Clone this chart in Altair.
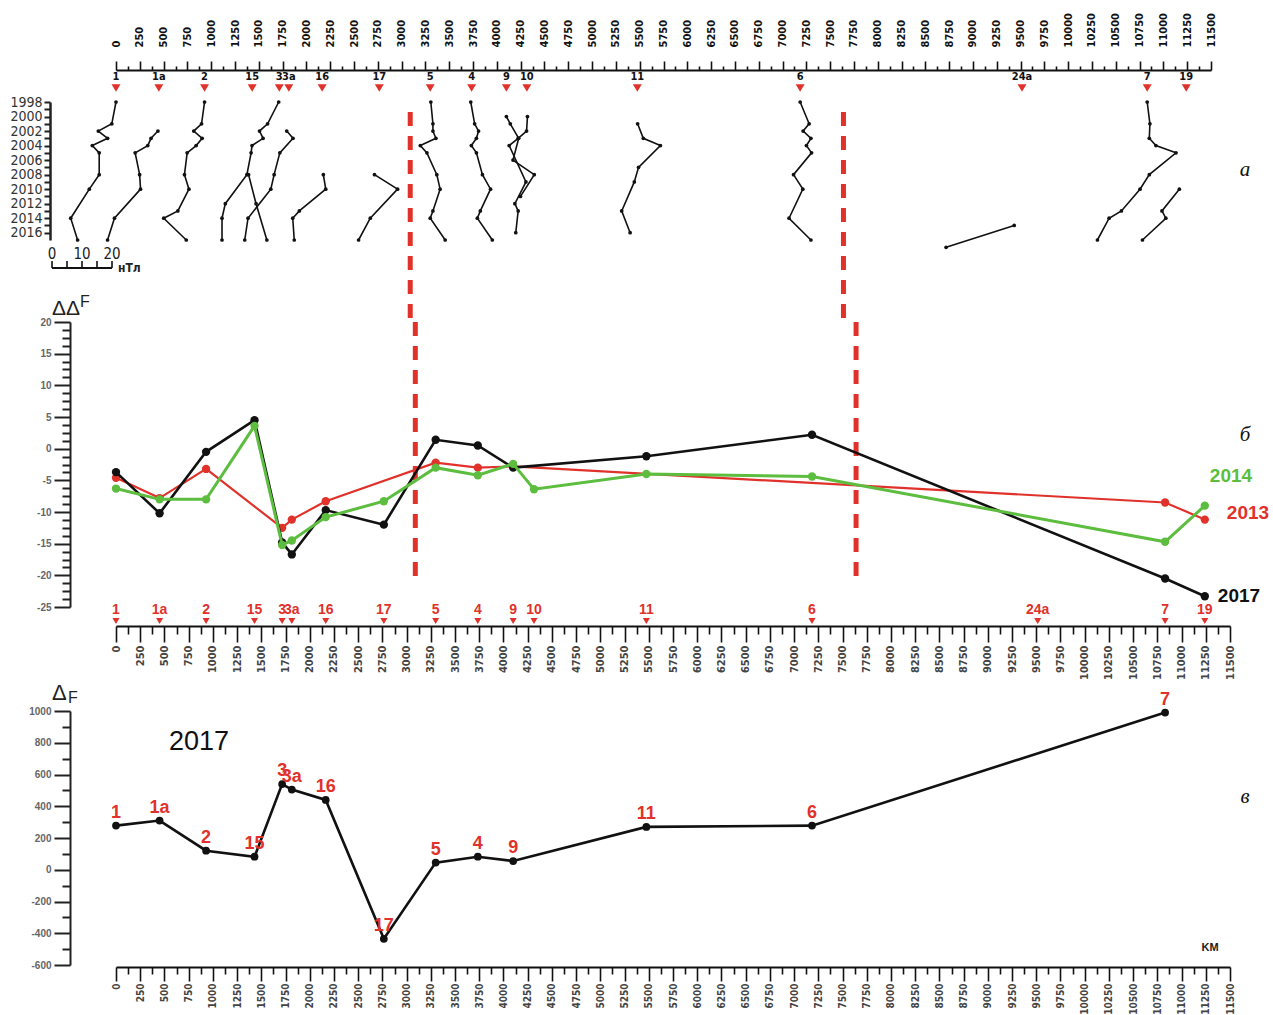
import altair as alt
import pandas as pd

# ---------------- data ----------------
STATIONS = ["1", "1a", "2", "15", "3", "3a", "16", "17", "5", "4", "9", "10", "11", "6", "24a", "7", "19"]
STATION_KM = [0, 450, 930, 1430, 1715, 1815, 2165, 2765, 3300, 3735, 4100, 4315, 5475, 7185, 9515, 10830, 11240]
BOUNDARY_KM = [3090, 7640]

# panel a: yearly deviation profiles (nT, relative to station mark)
YEARS_1 = [1998, 2001, 2002, 2003, 2004, 2005, 2008, 2010, 2014, 2017]
DEV_1 = [0.0, -1.4, -5.9, -2.8, -7.9, -5.6, -5.6, -8.9, -15.1, -12.8]
YEARS_1A = [2002, 2003, 2004, 2005, 2008, 2010, 2014, 2017]
DEV_1A = [-0.3, -2.6, -3.7, -7.9, -6.4, -6.1, -14.8, -17.1]
YEARS_2 = [1998, 2001, 2002, 2003, 2004, 2005, 2008, 2010, 2013, 2014, 2017]
DEV_2 = [0.0, -1.0, -3.6, -0.8, -2.8, -5.8, -6.7, -5.2, -8.9, -13.6, -6.1]
YEARS_15 = [2008, 2012, 2017]
DEV_15 = [-1.2, 1.3, 4.9]
YEARS_3 = [1998, 2001, 2002, 2003, 2004, 2005, 2008, 2012, 2014, 2017]
DEV_3 = [-0.2, -3.9, -6.6, -5.4, -9.1, -9.4, -10.8, -18.0, -19.1, -19.1]
YEARS_3A = [2002, 2003, 2005, 2008, 2010, 2014, 2017]
DEV_3A = [-0.7, 1.4, -3.0, -4.9, -6.0, -13.6, -14.7]
YEARS_16 = [2008, 2010, 2013, 2014, 2017]
DEV_16 = [0.4, 1.2, -7.6, -9.8, -9.3]
YEARS_17 = [2008, 2010, 2014, 2017]
DEV_17 = [-1.6, 6.1, -3.0, -6.9]
YEARS_5 = [1998, 2001, 2002, 2003, 2004, 2005, 2008, 2010, 2013, 2014, 2017]
DEV_5 = [0.2, 0.9, 0.9, 1.9, -3.3, -1.1, 2.2, 3.3, 0.9, 0.0, 5.0]
YEARS_4 = [1998, 2001, 2002, 2003, 2004, 2005, 2008, 2010, 2013, 2014, 2017]
DEV_4 = [-0.3, 1.0, 2.3, 1.6, -0.1, 1.6, 3.6, 6.3, 2.9, 1.9, 6.9]
YEARS_9 = [2000, 2001, 2003, 2006, 2008, 2011]
DEV_9 = [0.0, 1.3, 4.1, 2.2, 9.3, 4.7]
YEARS_10 = [2000, 2002, 2003, 2004, 2009, 2012, 2013, 2016]
DEV_10 = [0.2, -0.1, -2.9, -5.9, -0.3, -4.0, -2.9, -3.7]
YEARS_11 = [2001, 2003, 2004, 2007, 2009, 2013, 2016]
DEV_11 = [0.1, 2.0, 7.7, 0.4, -1.0, -5.2, -2.4]
YEARS_6 = [1998, 2001, 2002, 2003, 2004, 2005, 2008, 2010, 2014, 2017]
DEV_6 = [0.0, 3.0, 1.0, 3.6, 2.1, 3.8, -2.2, 0.9, -3.7, 3.6]
YEARS_24A = [2015, 2018]
DEV_24A = [-2.6, -25.3]
YEARS_7 = [1998, 2001, 2003, 2004, 2005, 2008, 2010, 2013, 2014, 2017]
DEV_7 = [0.0, 0.9, 0.7, 2.9, 9.6, 0.7, -2.4, -8.6, -12.7, -16.6]
YEARS_19 = [2010, 2013, 2014, 2017]
DEV_19 = [-2.3, -8.1, -6.8, -14.6]

# panel б: ΔΔF
DDF_2013_ST = ["1", "1a", "2", "3", "3a", "16", "5", "4", "9", "7", "19"]
DDF_2013 = [-4.6, -7.8, -3.2, -12.5, -11.2, -8.3, -2.2, -3.0, -2.8, -8.5, -11.2]
DDF_2017_ST = ["1", "1a", "2", "15", "3", "3a", "16", "17", "5", "4", "9", "11", "6", "7", "19"]
DDF_2017 = [-3.7, -10.2, -0.5, 4.5, -14.8, -16.7, -9.7, -12.0, 1.4, 0.5, -3.0, -1.2, 2.2, -20.5, -23.3]
DDF_2014_ST = ["1", "1a", "2", "15", "3", "3a", "16", "17", "5", "4", "9", "10", "11", "6", "7", "19"]
DDF_2014 = [-6.3, -8.0, -8.0, 3.6, -15.2, -14.5, -10.8, -8.3, -3.0, -4.2, -2.4, -6.4, -4.0, -4.4, -14.7, -9.0]

# panel в: ΔF 2017
DF_ST = ["1", "1a", "2", "15", "3", "3a", "16", "17", "5", "4", "9", "11", "6", "7"]
DF_2017 = [278, 310, 120, 82, 540, 505, 440, -435, 45, 82, 55, 270, 278, 990]

# scale bar (nT)
SCALEBAR_NT = [0, 5, 10, 15, 20]
SCALEBAR_LABELS = ["0", "10", "20"]
SCALEBAR_LABEL_NT = [0, 10, 20]

# ticks
KM_TICKS = list(range(0, 11501, 125))
YEAR_TICKS = list(range(1998, 2017))
DDF_TICKS = [-25 + 1.25 * i for i in range(37)]
DF_TICKS = list(range(-600, 1001, 100))

# ---------------- styling ----------------
RED = "#e0322b"
GREEN = "#5cbd3e"
BLACK = "#111111"
NARROW = "Liberation Sans Narrow, DejaVu Sans Condensed, Liberation Sans, sans-serif"
SANS = "Liberation Sans, Arial, sans-serif"
SERIF = "Liberation Serif, DejaVu Serif, serif"
NT_KM = 31.5          # profile scale: km per nT on panel a
SCALEBAR_ORIGIN = -672
W_A, W_B = 1095, 1114
H_A, H_B, H_C = 138, 307, 254

st_km = dict(zip(STATIONS, STATION_KM))
st_df = pd.DataFrame({"station": STATIONS, "km": STATION_KM})
bnd_df = pd.DataFrame({"km": BOUNDARY_KM})

profiles = [
    ("1", YEARS_1, DEV_1), ("1a", YEARS_1A, DEV_1A), ("2", YEARS_2, DEV_2),
    ("15", YEARS_15, DEV_15), ("3", YEARS_3, DEV_3), ("3a", YEARS_3A, DEV_3A),
    ("16", YEARS_16, DEV_16), ("17", YEARS_17, DEV_17), ("5", YEARS_5, DEV_5),
    ("4", YEARS_4, DEV_4), ("9", YEARS_9, DEV_9), ("10", YEARS_10, DEV_10),
    ("11", YEARS_11, DEV_11), ("6", YEARS_6, DEV_6), ("24a", YEARS_24A, DEV_24A),
    ("7", YEARS_7, DEV_7), ("19", YEARS_19, DEV_19),
]
rows = []
for st, yrs, dev in profiles:
    for y, d in zip(yrs, dev):
        rows.append({"station": st, "year": y, "km": st_km[st] + d * NT_KM})
prof_df = pd.DataFrame(rows)


def km_axis(orient, long_t, short_t, pad, offset, color, fsize=11):
    return alt.Axis(
        orient=orient, values=KM_TICKS, format="d",
        labelExpr="datum.value % 250 === 0 ? datum.label : ''",
        labelAngle=270, labelAlign="left" if orient == "top" else "right",
        labelBaseline="middle", labelPadding=pad, labelFont=NARROW,
        labelFontSize=fsize, labelFontWeight="bold", labelColor=color,
        labelOverlap=False, labelFlush=False,
        tickSize={"condition": {"test": "datum.value % 250 === 0", "value": long_t}, "value": short_t},
        tickWidth=1.6, tickColor=BLACK, domainColor=BLACK, domainWidth=2,
        offset=offset, grid=False, title=None,
    )


def text_at(t, x, y, **kw):
    return alt.Chart(pd.DataFrame({"t": [t]})).mark_text(**kw).encode(
        x=alt.value(x), y=alt.value(y), text="t:N")


# ---------------- panel a ----------------
SX_A = alt.Scale(domain=[0, 11500], nice=False, zero=False)
AX_A = km_axis("top", 9, 4, 14, 32, BLACK)
SY_A = alt.Scale(domain=[1998, 2017], reverse=True, nice=False, zero=False)
AY_A = alt.Axis(values=YEAR_TICKS, format="d",
                labelExpr="datum.value % 2 === 0 ? datum.label : ''",
                offset=66, tickSize=6, tickWidth=2, tickColor="#222",
                domainWidth=2.5, domainColor="#222", labelFontSize=14,
                labelFont=NARROW, labelColor="#333", labelPadding=2,
                labelOverlap=False, title=None, grid=False)


def xa(field="km"):
    return alt.X(f"{field}:Q", scale=SX_A, axis=AX_A, title=None)


dash_a = alt.Chart(bnd_df).mark_rule(color=RED, strokeWidth=5, strokeDash=[14, 10]).encode(
    x=xa(), y=alt.value(10), y2=alt.value(220))
prof_line = alt.Chart(prof_df).mark_line(color=BLACK, strokeWidth=1.6).encode(
    x=xa(), y=alt.Y("year:Q", scale=SY_A, axis=AY_A, title=None),
    detail="station:N", order="year:Q")
prof_pts = alt.Chart(prof_df).mark_circle(color=BLACK, size=14, opacity=1).encode(
    x=xa(), y=alt.Y("year:Q", scale=SY_A, axis=AY_A, title=None))
tri_a = alt.Chart(st_df).mark_point(shape="triangle-down", filled=True, size=80,
                                    color=RED, opacity=1).encode(x=xa(), y=alt.value(-14))
lab_a = alt.Chart(st_df).mark_text(fontSize=11, fontWeight="bold", font=NARROW,
                                   color=BLACK, baseline="middle").encode(
    x=xa(), y=alt.value(-25), text="station:N")

sb_line_df = pd.DataFrame({"x0": [SCALEBAR_ORIGIN], "x1": [SCALEBAR_ORIGIN + 20 * NT_KM]})
sb_tick_df = pd.DataFrame({"km": [SCALEBAR_ORIGIN + v * NT_KM for v in SCALEBAR_NT]})
sb_lab_df = pd.DataFrame({"km": [SCALEBAR_ORIGIN + v * NT_KM for v in SCALEBAR_LABEL_NT],
                          "t": SCALEBAR_LABELS})
sb_line = alt.Chart(sb_line_df).mark_rule(color=BLACK, strokeWidth=2).encode(
    x=xa("x0"), x2="x1:Q", y=alt.value(166))
sb_ticks = alt.Chart(sb_tick_df).mark_rule(color=BLACK, strokeWidth=1.6).encode(
    x=xa(), y=alt.value(159), y2=alt.value(166))
sb_labels = alt.Chart(sb_lab_df).mark_text(fontSize=15, font=NARROW, color="#222").encode(
    x=xa(), y=alt.value(152), text="t:N")
sb_unit = alt.Chart(pd.DataFrame({"km": [SCALEBAR_ORIGIN + 20 * NT_KM], "t": ["нТл"]})).mark_text(
    fontSize=12, font=NARROW, fontWeight="bold", color="#222", align="left", dx=6).encode(
    x=xa(), y=alt.value(166), text="t:N")
letter_a = text_at("а", 1129, 68, font=SERIF, fontStyle="italic", fontSize=21, color=BLACK)

panel_a = alt.layer(dash_a, prof_line, prof_pts, tri_a, lab_a, sb_line, sb_ticks,
                    sb_labels, sb_unit, letter_a).properties(width=W_A, height=H_A)

# ---------------- panel б ----------------
SX_B = alt.Scale(domain=[0, 11500], nice=False, zero=False)
AX_B = km_axis("bottom", 16, 8, 3, -3, "#444")
SY_B = alt.Scale(domain=[-25, 20], range=[285, 0], nice=False, zero=False)
AY_B = alt.Axis(values=DDF_TICKS,
                labelExpr="datum.value % 5 === 0 ? '' + datum.value : ''",
                offset=46,
                tickSize={"condition": {"test": "datum.value % 5 === 0", "value": 16}, "value": 8},
                tickWidth=2, tickColor="#222", domainWidth=2, domainColor="#222",
                labelFontSize=10, labelFont=SANS, labelFontWeight="bold", labelColor="#666",
                labelPadding=3, labelOverlap=False, title=None, grid=False)


def xb(field="km"):
    return alt.X(f"{field}:Q", scale=SX_B, axis=AX_B, title=None)


def yb():
    return alt.Y("val:Q", scale=SY_B, axis=AY_B, title=None)


dash_b = alt.Chart(bnd_df).mark_rule(color=RED, strokeWidth=5, strokeDash=[14, 10]).encode(
    x=xb(), y=alt.value(0), y2=alt.value(258))
tri_b = alt.Chart(st_df).mark_point(shape="triangle-down", filled=True, size=50,
                                    color=RED, opacity=1).encode(x=xb(), y=alt.value(299))
lab_b = alt.Chart(st_df).mark_text(fontSize=14, fontWeight="bold", font=SANS, color=RED,
                                   baseline="middle").encode(x=xb(), y=alt.value(288), text="station:N")


def series(stations, vals, color, width):
    df = pd.DataFrame({"km": [st_km[s] for s in stations], "val": vals,
                       "i": list(range(len(vals)))})
    line = alt.Chart(df).mark_line(color=color, strokeWidth=width).encode(
        x=xb(), y=yb(), order="i:Q")
    pts = alt.Chart(df).mark_circle(color=color, size=70, opacity=1).encode(x=xb(), y=yb())
    return line, pts


def end_label(stations, vals, text, color, dx, dy):
    df = pd.DataFrame({"km": [st_km[stations[-1]]], "val": [vals[-1]], "t": [text]})
    return alt.Chart(df).mark_text(color=color, fontSize=19, fontWeight="bold", font=SANS,
                                   align="left", baseline="middle", dx=dx, dy=dy).encode(
        x=xb(), y=yb(), text="t:N")


r_line, r_pts = series(DDF_2013_ST, DDF_2013, RED, 2.2)
k_line, k_pts = series(DDF_2017_ST, DDF_2017, BLACK, 2.6)
g_line, g_pts = series(DDF_2014_ST, DDF_2014, GREEN, 3.0)
lbl_2014 = end_label(DDF_2014_ST, DDF_2014, "2014", GREEN, 5, -30)
lbl_2013 = end_label(DDF_2013_ST, DDF_2013, "2013", RED, 22, -7)
lbl_2017 = end_label(DDF_2017_ST, DDF_2017, "2017", BLACK, 13, 0)
ddf_t1 = text_at("ΔΔ", -64, -7, font=SANS, fontSize=21, color="#222", align="left", baseline="alphabetic")
ddf_t2 = text_at("F", -36, -15, font=SANS, fontSize=16, color="#222", align="left", baseline="alphabetic")
letter_b = text_at("б", 1129, 113, font=SERIF, fontStyle="italic", fontSize=21, color=BLACK)

panel_b = alt.layer(dash_b, tri_b, lab_b, r_line, r_pts, k_line, k_pts, g_line, g_pts,
                    lbl_2014, lbl_2013, lbl_2017, ddf_t1, ddf_t2, letter_b).properties(
    width=W_B, height=H_B)

# ---------------- panel в ----------------
SX_C = alt.Scale(domain=[0, 11500], nice=False, zero=False)
AX_C = km_axis("bottom", 14, 7, 2, 2, "#444", fsize=10)
SY_C = alt.Scale(domain=[-600, 1000], nice=False, zero=False)
AY_C = alt.Axis(values=DF_TICKS,
                labelExpr="datum.value % 200 === 0 ? '' + datum.value : ''",
                offset=46,
                tickSize={"condition": {"test": "datum.value % 200 === 0", "value": 16}, "value": 8},
                tickWidth=2, tickColor="#222", domainWidth=2, domainColor="#222",
                labelFontSize=10, labelFont=SANS, labelFontWeight="bold", labelColor="#666",
                labelPadding=3, labelOverlap=False, title=None, grid=False)

df_c = pd.DataFrame({"station": DF_ST, "km": [st_km[s] for s in DF_ST], "val": DF_2017,
                     "i": list(range(len(DF_ST)))})
xc = alt.X("km:Q", scale=SX_C, axis=AX_C, title=None)
yc = alt.Y("val:Q", scale=SY_C, axis=AY_C, title=None)
c_line = alt.Chart(df_c).mark_line(color=BLACK, strokeWidth=2.6).encode(x=xc, y=yc, order="i:Q")
c_pts = alt.Chart(df_c).mark_circle(color=BLACK, size=60, opacity=1).encode(x=xc, y=yc)
c_lab = alt.Chart(df_c).mark_text(color=RED, fontSize=18, fontWeight="bold", font=SANS,
                                  baseline="bottom", dy=-4).encode(x=xc, y=yc, text="station:N")
t2017 = text_at("2017", 83, 31, font=SANS, fontSize=27, color=BLACK)
df_t1 = text_at("Δ", -64, -11, font=SANS, fontSize=22, color="#222", align="left", baseline="alphabetic")
df_t2 = text_at("F", -48, -8, font=SANS, fontSize=16, color="#222", align="left", baseline="alphabetic")
km_t = text_at("KM", 1094, 237, font=SANS, fontSize=11, fontWeight="bold", color="#222")
letter_c = text_at("в", 1129, 86, font=SERIF, fontStyle="italic", fontSize=21, color=BLACK)

panel_c = alt.layer(c_line, c_pts, c_lab, t2017, df_t1, df_t2, km_t, letter_c).properties(
    width=W_B, height=H_C)

chart = alt.vconcat(panel_a, panel_b, panel_c, spacing=82, bounds="flush").configure_view(
    stroke=None).properties(
    padding={"left": 9, "top": 12, "right": 0, "bottom": 0}, background="white")

chart.save("out.html", embed_options={"renderer": "svg", "actions": False})
